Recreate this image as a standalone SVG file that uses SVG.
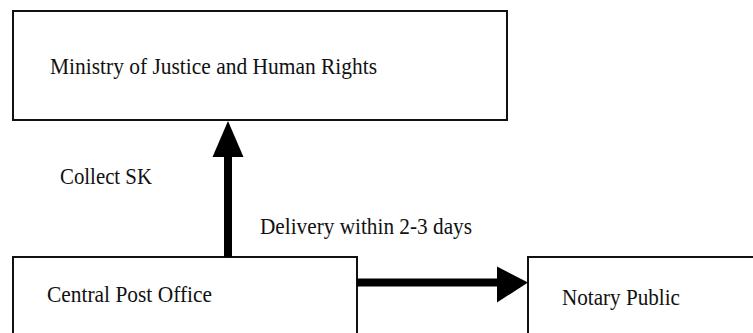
<svg xmlns="http://www.w3.org/2000/svg" width="753" height="333" viewBox="0 0 753 333">
  <style>
    .box { fill: #ffffff; stroke: #111111; stroke-width: 2; }
    .label { font-family: "Liberation Serif", "Times New Roman", serif; font-size: 23.5px; fill: #111111; }
    .shaft { stroke: #000000; stroke-width: 8; fill: none; }
    .head { fill: #000000; }
  </style>
  <rect width="753" height="333" fill="#ffffff"/>

  <g id="ministry">
    <rect class="box" x="13" y="11" width="494" height="109"/>
    <text class="label" x="50" y="74" textLength="327" lengthAdjust="spacingAndGlyphs">Ministry of Justice and Human Rights</text>
  </g>

  <g id="post-office">
    <rect class="box" x="13" y="257" width="344" height="90"/>
    <text class="label" x="47" y="302" textLength="165" lengthAdjust="spacingAndGlyphs">Central Post Office</text>
  </g>

  <g id="notary">
    <rect class="box" x="528" y="257" width="240" height="90"/>
    <text class="label" x="562" y="305" textLength="118" lengthAdjust="spacingAndGlyphs">Notary Public</text>
  </g>

  <g id="connectors">
    <!-- post office up to ministry -->
    <line class="shaft" x1="228" y1="257" x2="228" y2="155"/>
    <polygon class="head" points="228,121 243.5,157 212.5,157"/>
    <!-- post office across to notary -->
    <line class="shaft" x1="357" y1="282.5" x2="499" y2="282.5"/>
    <polygon class="head" points="528,282.5 497,266.5 497,302.5"/>
  </g>

  <g id="edge-labels">
    <text class="label" x="60" y="184" textLength="92" lengthAdjust="spacingAndGlyphs">Collect SK</text>
    <text class="label" x="260" y="234" textLength="212" lengthAdjust="spacingAndGlyphs">Delivery within 2-3 days</text>
  </g>
</svg>
